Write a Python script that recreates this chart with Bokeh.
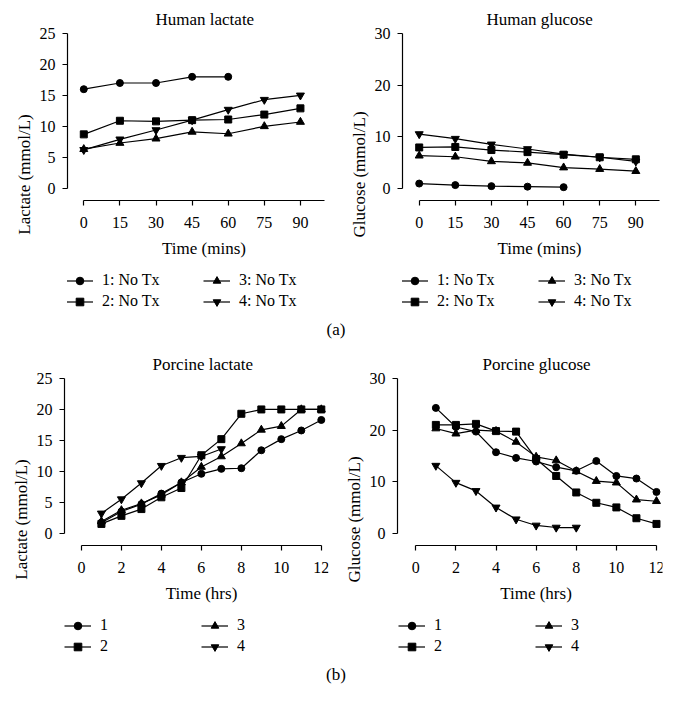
from bokeh.plotting import figure
from bokeh.models import FixedTicker, Legend, LegendItem, Div, Range1d
from bokeh.layouts import column, row
from bokeh.embed import file_html
from bokeh.resources import INLINE

FONT = "Liberation Serif"

# ---------------- data ----------------
human_time = [0, 15, 30, 45, 60, 75, 90]
human_time_short = [0, 15, 30, 45, 60]
human_labels = ["1: No Tx", "2: No Tx", "3: No Tx", "4: No Tx"]

human_lactate_1 = [16.0, 17.0, 17.0, 18.0, 18.0]
human_lactate_2 = [8.7, 10.9, 10.8, 11.0, 11.1, 11.9, 12.9]
human_lactate_3 = [6.3, 7.3, 8.0, 9.1, 8.8, 10.0, 10.7]
human_lactate_4 = [6.2, 7.9, 9.4, 11.0, 12.7, 14.3, 15.0]

human_glucose_1 = [0.9, 0.6, 0.4, 0.3, 0.2]
human_glucose_2 = [7.9, 8.0, 7.4, 7.0, 6.5, 6.0, 5.6]
human_glucose_3 = [6.3, 6.1, 5.2, 4.9, 4.0, 3.7, 3.3]
human_glucose_4 = [10.5, 9.6, 8.5, 7.6, 6.6, 6.0, 5.2]

porcine_time = [1, 2, 3, 4, 5, 6, 7, 8, 9, 10, 11, 12]
porcine_labels = ["1", "2", "3", "4"]

porcine_lactate_1 = [1.7, 3.5, 4.7, 6.4, 8.2, 9.6, 10.4, 10.5, 13.4, 15.2, 16.6, 18.3]
porcine_lactate_2 = [1.5, 2.8, 3.9, 5.8, 7.3, 12.6, 15.2, 19.3, 20.0, 20.0, 20.0, 20.0]
porcine_lactate_3 = [1.9, 3.7, 4.8, 6.2, 8.2, 10.7, 12.4, 14.5, 16.7, 17.3, 20.0, 20.0]
porcine_lactate_4 = [3.2, 5.5, 8.1, 10.9, 12.2, 12.4, 13.6]

porcine_glucose_1 = [24.3, 20.6, 19.7, 15.7, 14.6, 13.9, 12.8, 12.1, 14.0, 11.1, 10.6, 8.0]
porcine_glucose_2 = [21.0, 21.0, 21.2, 19.8, 19.7, 14.4, 11.1, 7.9, 5.9, 5.0, 2.9, 1.8]
porcine_glucose_3 = [20.3, 19.3, 20.0, 19.8, 17.7, 14.8, 14.1, 12.0, 10.1, 9.8, 6.5, 6.2]
porcine_glucose_4 = [13.1, 9.8, 8.2, 5.0, 2.7, 1.5, 1.1, 1.1]

human_xticks = [0, 15, 30, 45, 60, 75, 90]
porcine_xticks = [0, 2, 4, 6, 8, 10, 12]
lactate_yticks = [0, 5, 10, 15, 20, 25]
glucose_yticks = [0, 10, 20, 30]

MARKERS = ["circle", "square", "triangle", "inverted_triangle"]
MSIZE = [7, 7, 8, 8]

FIG_H = 319
BORDER_TOP = 32
BORDER_BOTTOM = 5
FRAME_H = FIG_H - BORDER_TOP - BORDER_BOTTOM
AXIS_GAP = 12.3          # px between y=0 and the x axis line
ROW1_TOP = 237.5         # legend top, px below frame top
LEG_H = 40


def make_panel(title, title_offset, ylabel, xlabel, x_range, y_top, x_bounds,
               xticks, yticks, border_left, border_right, series, labels, legend_x):
    unit = 154.7 / y_top                 # px per data unit on y
    y_start = y_top - FRAME_H / unit
    axis_loc = -AXIS_GAP / unit

    p = figure(width=328, height=FIG_H, output_backend="svg", toolbar_location=None,
               x_range=Range1d(*x_range), y_range=Range1d(y_start, y_top),
               min_border_left=border_left, min_border_right=border_right,
               min_border_top=BORDER_TOP, min_border_bottom=BORDER_BOTTOM,
               outline_line_color=None, background_fill_color="white",
               border_fill_color="white")
    p.grid.visible = False

    p.title.text = title
    p.title.align = "left"
    p.title.offset = title_offset
    p.title.standoff = 10
    p.title.text_font = FONT
    p.title.text_font_size = "17px"
    p.title.text_font_style = "normal"
    p.title.text_color = "black"

    for ax in (p.xaxis[0], p.yaxis[0]):
        ax.axis_line_color = "black"
        ax.axis_line_width = 1.2
        ax.major_tick_line_color = "black"
        ax.major_tick_line_width = 1.2
        ax.major_tick_out = 5
        ax.major_tick_in = 0
        ax.minor_tick_line_color = None
        ax.major_label_text_font = FONT
        ax.major_label_text_font_size = "16px"
        ax.major_label_text_color = "black"
        ax.axis_label_text_font = FONT
        ax.axis_label_text_font_size = "17px"
        ax.axis_label_text_font_style = "normal"
        ax.axis_label_text_color = "black"

    p.xaxis.axis_label = xlabel
    p.xaxis.bounds = x_bounds
    p.xaxis.fixed_location = axis_loc
    p.xaxis.ticker = FixedTicker(ticks=xticks)
    p.xaxis.major_label_standoff = 11
    p.xaxis.axis_label_standoff = 8

    p.yaxis.axis_label = ylabel
    p.yaxis.bounds = (0, y_top)
    p.yaxis.ticker = FixedTicker(ticks=yticks)
    p.yaxis.major_label_standoff = 7
    p.yaxis.axis_label_standoff = 3

    items = []
    for (xs, ys), lab, mk, ms in zip(series, labels, MARKERS, MSIZE):
        lr = p.line(xs, ys, line_color="black", line_width=1.2)
        sr = p.scatter(xs, ys, marker=mk, size=ms, fill_color="black",
                       line_color="black")
        items.append(LegendItem(label=lab, renderers=[lr, sr]))

    leg = Legend(items=items, location=(legend_x, FRAME_H - ROW1_TOP - LEG_H),
                 orientation="vertical", nrows=2, glyph_width=27, glyph_height=19,
                 label_standoff=9, label_width=99, label_height=19, spacing=2,
                 padding=0, margin=0, border_line_color=None,
                 background_fill_alpha=0, label_text_font=FONT,
                 label_text_font_size="16px", label_text_color="black")
    p.add_layout(leg)
    return p


f1 = make_panel("Human lactate", 88, "Lactate (mmol/L)", "Time (mins)",
                (-6.77, 101.66), 25, (0, 100), human_xticks, lactate_yticks, 59, 8,
                [(human_time_short, human_lactate_1), (human_time, human_lactate_2),
                 (human_time, human_lactate_3), (human_time, human_lactate_4)],
                human_labels, -1)

f2 = make_panel("Human glucose", 84, "Glucose (mmol/L)", "Time (mins)",
                (-6.94, 100.25), 30, (0, 100), human_xticks, glucose_yticks, 66, 4,
                [(human_time_short, human_glucose_1), (human_time, human_glucose_2),
                 (human_time, human_glucose_3), (human_time, human_glucose_4)],
                human_labels, -1)

f3 = make_panel("Porcine lactate", 88, "Lactate (mmol/L)", "Time (hrs)",
                (-0.847, 12.36), 25, (0, 12), porcine_xticks, lactate_yticks, 55, 8,
                [(porcine_time, porcine_lactate_1), (porcine_time, porcine_lactate_2),
                 (porcine_time, porcine_lactate_3), (porcine_time[:7], porcine_lactate_4)],
                porcine_labels, 0)

f4 = make_panel("Porcine glucose", 85, "Glucose (mmol/L)", "Time (hrs)",
                (-0.912, 12.3), 30, (0, 12), porcine_xticks, glucose_yticks, 61, 2,
                [(porcine_time, porcine_glucose_1), (porcine_time, porcine_glucose_2),
                 (porcine_time, porcine_glucose_3), (porcine_time[:8], porcine_glucose_4)],
                porcine_labels, 1)

div_style = {"text-align": "center", "font-family": FONT, "font-size": "17px",
             "color": "black", "line-height": "20px", "width": "656px"}
div_a = Div(text="(a)", width=656, height=345 - FIG_H, margin=0, styles=div_style)
div_b = Div(text="(b)", width=656, height=345 - FIG_H, margin=0, styles=div_style)

layout = column(row(f1, f2), div_a, row(f3, f4), div_b, margin=(1, 0, 0, 8))

open("out.html", "w").write(file_html(layout, INLINE))
